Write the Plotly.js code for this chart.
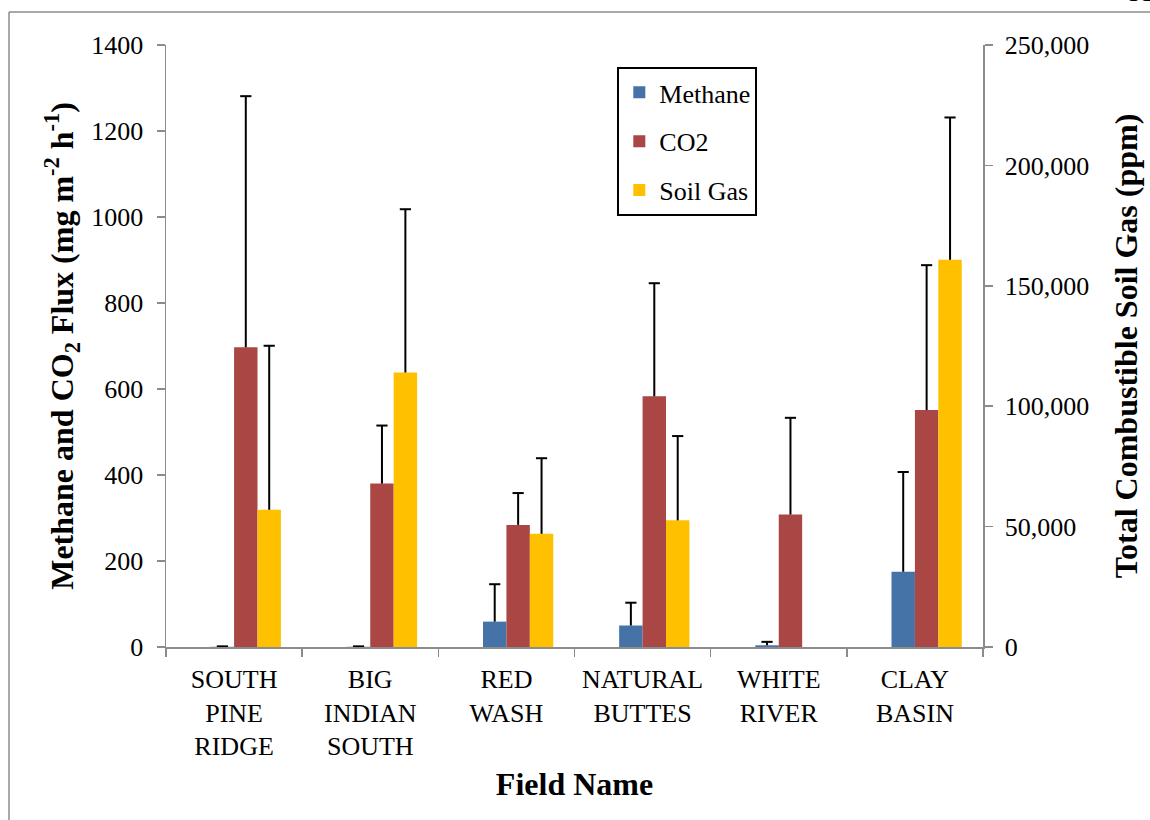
<!DOCTYPE html>
<html>
<head>
<meta charset="utf-8">
<script src="https://cdn.plot.ly/plotly-3.0.1.min.js"></script>
<style>html,body{margin:0;padding:0;background:#fff;}#chart{width:1150px;height:820px;}</style>
</head>
<body>
<div id="chart"></div>
<script>
const categories = ["SOUTH<br>PINE<br>RIDGE", "BIG<br>INDIAN<br>SOUTH", "RED<br>WASH", "NATURAL<br>BUTTES", "WHITE<br>RIVER", "CLAY<br>BASIN"];
const methane = [0.5, 0.5, 59, 50, 4, 175];
const methaneErr = [1, 1, 87, 53, 8, 232];
const co2 = [697, 380, 284, 583, 308, 551];
const co2Err = [584, 135, 74, 263, 225, 337];
const soilGas = [57000, 114000, 47000, 52600, null, 160800];
const soilGasErr = [68100, 67800, 31400, 35000, null, 59100];
const leftTicks = [0, 200, 400, 600, 800, 1000, 1200, 1400];
const rightTicks = [0, 50000, 100000, 150000, 200000, 250000];

const FONT = '"Liberation Serif", "Times New Roman", serif';
const BW = 0.172;
const idx = categories.map((c, i) => i);
function errY(arr) {
  return {type: 'data', symmetric: false, array: arr, arrayminus: arr.map(() => 0),
          color: '#000', thickness: 2, width: 0};
}
function caps(vals, errs, off, yax, name) {
  const xs = [], ys = [];
  vals.forEach((v, i) => {
    if (v === null || errs[i] === null) return;
    xs.push(idx[i] + off + BW / 2);
    ys.push(v + errs[i]);
  });
  return {type: 'scatter', mode: 'markers', x: xs, y: ys, xaxis: 'x2', yaxis: yax,
          showlegend: false, hoverinfo: 'skip', name: name,
          marker: {symbol: 'line-ew', size: 8, color: '#000', line: {color: '#000', width: 2}}};
}
const traces = [
  {type: 'bar', name: 'Methane', x: categories, y: methane, width: BW, offset: -BW,
   marker: {color: '#4572A7'}, error_y: errY(methaneErr), legendgroup: 'a'},
  {type: 'bar', name: 'CO2', x: categories, y: co2, width: BW, offset: 0,
   marker: {color: '#AA4643'}, error_y: errY(co2Err), legendgroup: 'b'},
  {type: 'bar', name: 'Soil Gas', x: categories, y: soilGas, width: BW, offset: BW, yaxis: 'y2',
   marker: {color: '#FFC000'}, error_y: errY(soilGasErr), legendgroup: 'c'},
  caps(methane, methaneErr, -BW, 'y', 'mcap'),
  caps(co2, co2Err, 0, 'y', 'ccap'),
  caps(soilGas, soilGasErr, BW, 'y2', 'scap')
];
const axisCol = '#8c8c8c';
const layout = {
  width: 1150, height: 820,
  margin: {l: 166, r: 167, t: 45, b: 173, pad: 0},
  paper_bgcolor: '#fff', plot_bgcolor: '#fff',
  font: {family: FONT, size: 26, color: '#000'},
  barmode: 'overlay',
  showlegend: true,
  legend: {x: 0.5524, y: 0.9635, xanchor: 'left', yanchor: 'top',
           bordercolor: '#000', borderwidth: 2, bgcolor: '#fff',
           traceorder: 'grouped', tracegroupgap: 12,
           font: {family: FONT, size: 26, color: '#000'}},
  xaxis: {type: 'category', range: [-0.5, 5.5], showline: true, linecolor: axisCol, linewidth: 1.5,
          ticks: 'outside', tickson: 'boundaries', ticklen: 8, tickcolor: axisCol, tickwidth: 1.5,
          showgrid: false, zeroline: false, ticklabelstandoff: 8,
          tickfont: {family: FONT, size: 26, color: '#000'},
          title: {text: '<b>Field Name</b>', font: {family: FONT, size: 32, color: '#000'}, standoff: 12}},
  xaxis2: {overlaying: 'x', range: [-0.5, 5.5], visible: false, showgrid: false, zeroline: false},
  yaxis: {range: [0, 1400], tickvals: leftTicks, showline: true, linecolor: axisCol, linewidth: 1.5,
          ticks: 'outside', ticklen: 8, tickcolor: axisCol, tickwidth: 1.5, showgrid: false, zeroline: false,
          ticklabelstandoff: 8,
          tickfont: {family: FONT, size: 26, color: '#000'},
          title: {text: '<b>Methane and CO<sub>2</sub> Flux (mg m<sup>-2</sup> h<sup>-1</sup>)</b>',
                  font: {family: FONT, size: 32, color: '#000'}, standoff: 8}},
  yaxis2: {overlaying: 'y', side: 'right', range: [0, 250000], tickvals: rightTicks, tickformat: ',d',
           showline: true, linecolor: axisCol, linewidth: 1.5,
           ticks: 'outside', ticklen: 8, tickcolor: axisCol, tickwidth: 1.5, showgrid: false, zeroline: false,
           ticklabelstandoff: 7,
           tickfont: {family: FONT, size: 26, color: '#000'},
           title: {text: '<b>Total Combustible Soil Gas (ppm)</b>',
                   font: {family: FONT, size: 32, color: '#000'}, standoff: 26}},
  shapes: [
    {type: 'line', xref: 'paper', yref: 'paper', x0: (9 - 166) / 817, x1: (9 - 166) / 817,
     y0: (647 - 12) / 602, y1: (647 - 830) / 602, line: {color: '#8c8c8c', width: 1.5}},
    {type: 'line', xref: 'paper', yref: 'paper', x0: (9 - 166) / 817, x1: (1160 - 166) / 817,
     y0: (647 - 12) / 602, y1: (647 - 12) / 602, line: {color: '#8c8c8c', width: 1.5}}
  ],
  annotations: [
    {text: '51', xref: 'paper', yref: 'paper', x: (1126 - 166) / 817, y: (647 - 9) / 602,
     xanchor: 'left', yanchor: 'bottom', showarrow: false,
     font: {family: FONT, size: 26, color: '#000'}}
  ]
};
Plotly.newPlot('chart', traces, layout, {displayModeBar: false, staticPlot: true});
</script>
</body>
</html>
